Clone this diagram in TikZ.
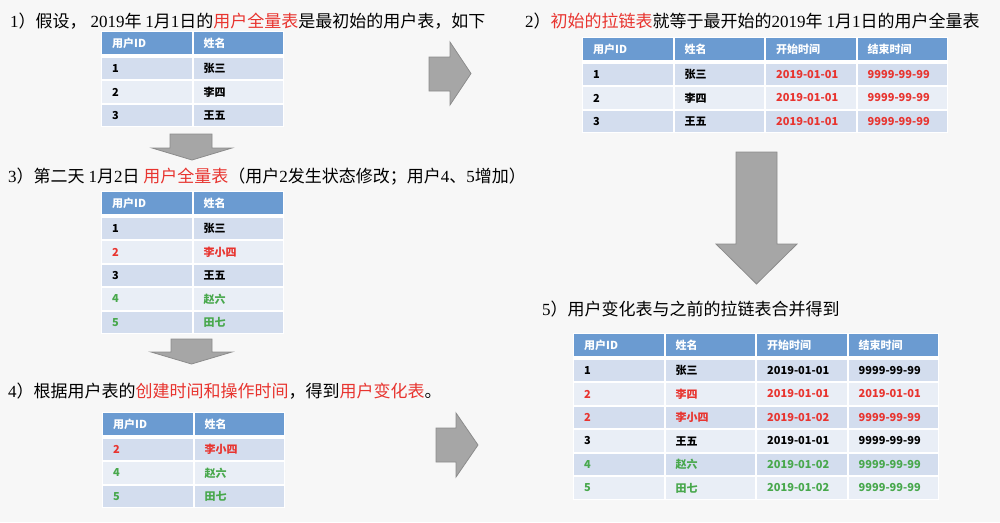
\documentclass[tikz,border=0pt]{standalone}
\usepackage{fontspec}
\setmainfont{Noto Sans CJK SC}
\newfontfamily\numfont{Liberation Serif}
\usetikzlibrary{matrix}

\definecolor{pagebg}{HTML}{F7F7F7}
\definecolor{hdblue}{HTML}{6B9BD1}
\definecolor{rowdark}{HTML}{D3DDEE}
\definecolor{rowlight}{HTML}{E9EEF6}
\definecolor{zred}{HTML}{E8342F}
\definecolor{zgreen}{HTML}{48A84C}
\definecolor{arrowgray}{HTML}{A6A6A6}
\definecolor{arrowedge}{HTML}{8C8C8C}

\newcommand{\dg}[1]{{\numfont #1}}
\newcommand{\redtxt}[1]{\textcolor{zred}{#1}}

\tikzset{
	zipbox/.style={matrix of nodes, fill=white, inner sep=1pt,
		column sep=2pt, row sep=2pt, anchor=north west,
		nodes={anchor=center, text width=69.5pt, align=left, fill=rowlight,
			inner xsep=10pt, inner ysep=0pt, minimum height=21.5pt,
			font=\fontsize{11}{13}\selectfont\bfseries},
		every even row/.style={nodes={fill=rowdark}},
		row 1/.style={nodes={fill=hdblue, text=white}}},
	blockarrow/.style={fill=arrowgray, draw=arrowedge, line width=0.8pt},
	heading/.style={anchor=west, inner sep=0pt, font=\fontsize{17}{20}\selectfont}
}

\begin{document}
\begin{tikzpicture}[x=1pt, y=-1pt]

\fill[pagebg] (0,0) rectangle (1000,522);
\useasboundingbox (0,0) rectangle (1000,522);

% headings
\node[heading] (h1) at (10,21) {\dg{1}）假设，\ \dg{2019}年\ \dg{1}月\dg{1}日的\redtxt{用户全量表}是最初始的用户表，如下};
\node[heading] (h2) at (525,21) {\dg{2}）\redtxt{初始的拉链表}就等于最开始的\dg{2019}年\ \dg{1}月\dg{1}日的用户全量表};
\node[heading] (h3) at (8,177) {\dg{3}）第二天\ \dg{1}月\dg{2}日\ \redtxt{用户全量表}（用户\dg{2}发生状态修改；用户\dg{4}、\dg{5}增加）};
\node[heading] (h4) at (8,391) {\dg{4}）根据用户表的\redtxt{创建时间和操作时间}，得到\redtxt{用户变化表}。};
\node[heading] (h5) at (542,309) {\dg{5}）用户变化表与之前的拉链表合并得到};

% 1) full table, day one
\matrix (full1) [zipbox] at (101,31) {
	用户ID & 姓名 \\[2pt]
	1 & 张三 \\
	2 & 李四 \\
	3 & 王五 \\
};

% 3) full table, day two
\matrix (full2) [zipbox,
	row 3/.style={nodes={text=zred}},
	row 5/.style={nodes={text=zgreen}},
	row 6/.style={nodes={text=zgreen}}] at (101,191) {
	用户ID & 姓名 \\[2pt]
	1 & 张三 \\
	2 & 李小四 \\
	3 & 王五 \\
	4 & 赵六 \\
	5 & 田七 \\
};

% 4) change table
\matrix (delta) [zipbox,
	row 2/.style={nodes={text=zred}},
	row 3/.style={nodes={text=zgreen}},
	row 4/.style={nodes={text=zgreen}}] at (102,412) {
	用户ID & 姓名 \\[2pt]
	2 & 李小四 \\
	4 & 赵六 \\
	5 & 田七 \\
};

% 2) first zipper table
\matrix (zip1) [zipbox,
	column 3/.style={nodes={text=zred}},
	column 4/.style={nodes={text=zred}}] at (582,37) {
	用户ID & 姓名 & 开始时间 & 结束时间 \\[2pt]
	1 & 张三 & 2019-01-01 & 9999-99-99 \\
	2 & 李四 & 2019-01-01 & 9999-99-99 \\
	3 & 王五 & 2019-01-01 & 9999-99-99 \\
};

% 5) merged zipper table
\matrix (zip2) [zipbox,
	row 3/.style={nodes={text=zred}},
	row 4/.style={nodes={text=zred}},
	row 6/.style={nodes={text=zgreen}},
	row 7/.style={nodes={text=zgreen}}] at (573,333) {
	用户ID & 姓名 & 开始时间 & 结束时间 \\[2pt]
	1 & 张三 & 2019-01-01 & 9999-99-99 \\
	2 & 李四 & 2019-01-01 & 2019-01-01 \\
	2 & 李小四 & 2019-01-02 & 9999-99-99 \\
	3 & 王五 & 2019-01-01 & 9999-99-99 \\
	4 & 赵六 & 2019-01-02 & 9999-99-99 \\
	5 & 田七 & 2019-01-02 & 9999-99-99 \\
};

% arrows pointing down
\foreach \xa/\xb/\xc/\xd/\ya/\yb/\yc in {
	152/170/212/232/134/148/160,
	151/171/212/232/339/352/364,
	716/736/777/797/152/244/284}
	\draw[blockarrow] (\xb,\ya) -- (\xc,\ya) -- (\xc,\yb) -- (\xd,\yb)
		-- ({(\xa+\xd)/2},\yc) -- (\xa,\yb) -- (\xb,\yb) -- cycle;

% arrows pointing right
\foreach \xa/\xb/\xc/\ya/\yb/\yc/\yd in {
	429/450/471/42/57/91/105,
	436/456/478/413/428/462/477}
	\draw[blockarrow] (\xa,\yb) -- (\xb,\yb) -- (\xb,\ya) -- (\xc,{(\ya+\yd)/2})
		-- (\xb,\yd) -- (\xb,\yc) -- (\xa,\yc) -- cycle;

\end{tikzpicture}
\end{document}
